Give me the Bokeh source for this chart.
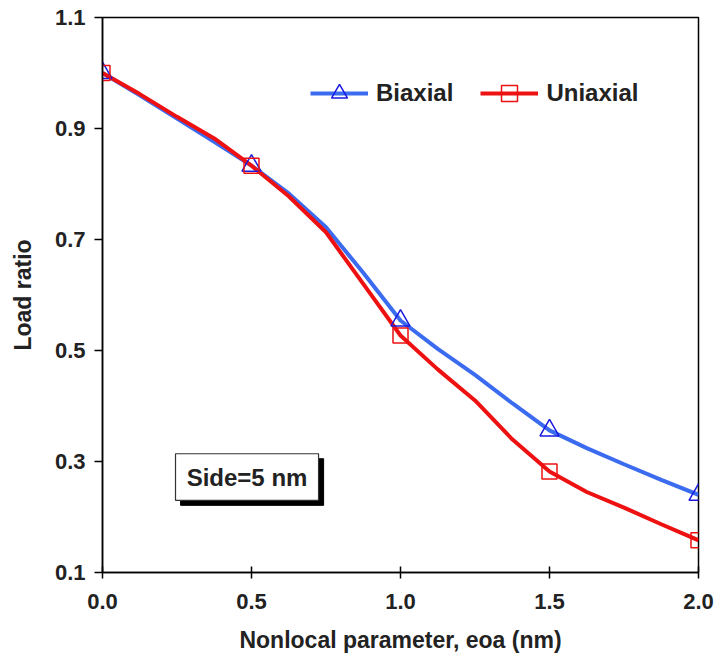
from bokeh.plotting import figure
from bokeh.models import FixedTicker, NumeralTickFormatter, Legend, LegendItem, Range1d
from bokeh.embed import file_html
from bokeh.resources import INLINE

# marker data
x_pts = [0.0, 0.5, 1.0, 1.5, 2.0]
biaxial_pts = [1.0, 0.833, 0.554, 0.356, 0.240]
uniaxial_pts = [1.0, 0.833, 0.527, 0.282, 0.158]

# smooth curves, values
x_line = [0.0, 0.125, 0.25, 0.375, 0.5, 0.625, 0.75, 0.875, 1.0,
          1.125, 1.25, 1.375, 1.5, 1.625, 1.75, 1.875, 2.0]
biaxial_line = [1.0, 0.960, 0.918, 0.876, 0.833, 0.783, 0.722, 0.640, 0.554,
                0.503, 0.456, 0.405, 0.356, 0.324, 0.295, 0.267, 0.240]
uniaxial_line = [1.0, 0.962, 0.921, 0.882, 0.833, 0.778, 0.713, 0.620, 0.527,
                 0.466, 0.410, 0.340, 0.282, 0.245, 0.217, 0.187, 0.158]

x_ticks = [0.0, 0.5, 1.0, 1.5, 2.0]
y_ticks = [0.1, 0.3, 0.5, 0.7, 0.9, 1.1]

FONT = "Liberation Sans"
BLUE_LINE = "#3b6cf0"
BLUE_MARK = "#1a1ae0"
RED = "#ee1111"

p = figure(width=715, height=658, output_backend="svg", toolbar_location=None,
           x_range=Range1d(0, 2.0), y_range=Range1d(0.1, 1.1),
           min_border_left=102, min_border_right=17, min_border_top=17, min_border_bottom=86)
p.xgrid.visible = False
p.ygrid.visible = False
p.outline_line_color = "black"
p.outline_line_width = 1.5

for ax in (p.xaxis[0], p.yaxis[0]):
    ax.axis_line_width = 1.5
    ax.major_tick_line_width = 1.5
    ax.minor_tick_line_color = None
    ax.major_label_text_font = FONT
    ax.major_label_text_font_style = "bold"
    ax.major_label_text_font_size = "22px"
    ax.major_label_text_color = "#222222"
    ax.axis_label_text_font = FONT
    ax.axis_label_text_font_style = "bold"
    ax.axis_label_text_font_size = "23px"
    ax.axis_label_text_color = "#222222"

p.xaxis.ticker = FixedTicker(ticks=x_ticks)
p.yaxis.ticker = FixedTicker(ticks=y_ticks)
p.xaxis.formatter = NumeralTickFormatter(format="0.0")
p.yaxis.formatter = NumeralTickFormatter(format="0.0")
p.xaxis.major_tick_in = 6
p.xaxis.major_tick_out = 6
p.yaxis.major_tick_in = 0
p.yaxis.major_tick_out = 8
p.xaxis.major_label_standoff = 15
p.yaxis.major_label_standoff = 9
p.xaxis.axis_label = "Nonlocal parameter, eoa (nm)"
p.yaxis.axis_label = "Load ratio"
p.xaxis.axis_label_standoff = 15
p.yaxis.axis_label_standoff = 16

# lines and markers
bl = p.line(x_line, biaxial_line, line_color=BLUE_LINE, line_width=4)
rl = p.line(x_line, uniaxial_line, line_color=RED, line_width=4)
bm = p.scatter(x_pts, biaxial_pts, marker="triangle", size=19, fill_color=None,
               line_color=BLUE_MARK, line_width=1.5)
rm = p.scatter(x_pts, uniaxial_pts, marker="square", size=15, fill_color=None,
               line_color=RED, line_width=1.5)

# text box with shadow
p.quad(left=[0.262], right=[0.742], top=[0.305], bottom=[0.221], fill_color="black", line_color="black")
p.quad(left=[0.245], right=[0.725], top=[0.314], bottom=[0.230], fill_color="white",
       line_color="#333333", line_width=1.2)
p.text(x=[0.485], y=[0.272], text=["Side=5 nm"], text_align="center", text_baseline="middle",
       text_font_size="24px", text_font_style="bold", text_color="#222222",
       text_font={"value": FONT})

legend = Legend(items=[LegendItem(label="Biaxial", renderers=[bl, bm]),
                       LegendItem(label="Uniaxial", renderers=[rl, rm])],
                orientation="horizontal", location=(208, 459))
legend.border_line_color = None
legend.background_fill_alpha = 0
legend.label_text_font = FONT
legend.label_text_font_style = "bold"
legend.label_text_font_size = "24px"
legend.label_text_color = "#222222"
legend.glyph_width = 58
legend.glyph_height = 40
legend.spacing = 27
legend.label_standoff = 8
p.add_layout(legend, "center")

open("out.html", "w").write(file_html(p, INLINE))
